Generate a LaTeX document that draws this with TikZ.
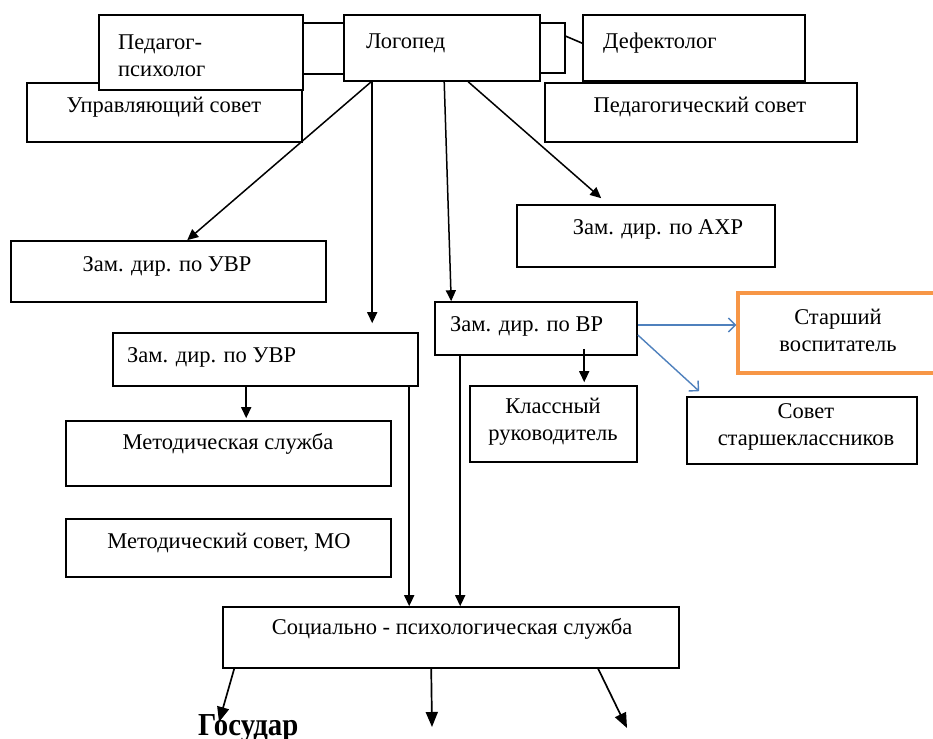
\documentclass[tikz,border=0pt]{standalone}
\usepackage{fontspec}
\setmainfont{Liberation Serif}
\newfontfamily\timesru{Liberation Serif}
\usetikzlibrary{arrows.meta, fit}
\definecolor{wordorange}{HTML}{F79646}
\definecolor{wordblue}{HTML}{4F81BD}
\tikzset{
  box/.style={draw=black, line width=1.6pt, fill=white, inner sep=0pt},
  txt/.style={font=\timesru\fontsize{22.5}{27}\selectfont, inner sep=0pt, align=center},
  arr/.style={line width=1.5pt, -{Triangle[length=11pt,width=10pt]}},
  bigarr/.style={line width=1.7pt, -{Triangle[length=15pt,width=12pt]}},
  bluearr/.style={wordblue, line width=1.4pt, -{Straight Barb[length=7pt,width=14pt]}}
}
\begin{document}
\begin{tikzpicture}[x=1pt, y=-1pt]
\useasboundingbox (0,0) rectangle (933,738);
\fill[white] (0,0) rectangle (933,738);

% top row
\node[box, fit={(27,83) (302,142)}] (upr) {};
\node[txt] at (164,107) {Управляющий совет};
\node[box, fit={(545,83) (857,142)}] (pedsov) {};
\node[txt] at (700,107) {Педагогический совет};
\node[box, fit={(290,23) (344,74)}] (linkL) {};
\node[box, fit={(99,15) (303,90)}] (psy) {};
\node[txt, anchor=west, align=left] at (118,56) {Педагог-\\психолог};
\node[box, fit={(540,23) (565,73)}] (linkR) {};
\node[box, fit={(344,15) (540,81)}] (logo) {};
\node[txt, anchor=west] at (366,43) {Логопед};
\node[box, fit={(583,15) (805,81)}] (defek) {};
\node[txt, anchor=west] at (603,43) {Дефектолог};
\draw[line width=1.6pt] ([yshift=-14pt]linkR.north east) -- ([yshift=-29pt]defek.north west);

% deputies
\node[box, fit={(11,241) (326,302)}] (uvrA) {};
\node[txt] at (167,266) {Зам. дир. по УВР};
\node[box, fit={(517,205) (775,267)}] (axr) {};
\node[txt] at (658,229) {Зам. дир. по АХР};
\node[box, fit={(435,302) (637,355)}] (vr) {};
\node[txt, anchor=west] at (450,326) {Зам. дир. по ВР};
\node[box, fit={(113,333) (418,386)}] (uvrB) {};
\node[txt, anchor=west] at (127,357) {Зам. дир. по УВР};
\node[box, draw=wordorange, line width=3.5pt, fit={(738,293) (950,373)}] (star) {};
\node[txt] at (838,330) {Старший\\воспитатель};
\node[box, fit={(470,386) (637,462)}] (kl) {};
\node[txt] at (553,422) {Классный\\руководитель};
\node[box, fit={(687,397) (917,464)}] (sov) {};
\node[txt] at (806,427) {Совет\\старшеклассников};
\node[box, fit={(66,421) (391,486)}] (met) {};
\node[txt] at (228,444) {Методическая служба};
\node[box, fit={(66,519) (391,577)}] (mo) {};
\node[txt] at (229,543) {Методический совет, МО};
\node[box, fit={(223,607) (679,668)}] (soc) {};
\node[txt] at (452,629) {Социально - психологическая служба};
\node[anchor=base west, inner sep=0pt, xscale=0.9, font=\timesru\fontsize{32}{32}\selectfont\bfseries] (gos) at (198,735) {Государ};

% arrows
\draw[arr] ([xshift=28pt]logo.south west) -- ([xshift=177pt]uvrA.north west);
\draw[arr] ([xshift=29pt]logo.south west) -- ([xshift=260pt, yshift=9pt]uvrB.north west);
\draw[arr] ([xshift=101pt]logo.south west) -- ([xshift=17pt]vr.north west);
\draw[arr] ([xshift=125pt]logo.south west) -- ([xshift=85pt, yshift=6pt]axr.north west);
\draw[arr] ([xshift=150pt, yshift=7pt]vr.south west) -- ([xshift=115pt, yshift=3pt]kl.north west);
\draw[arr] ([xshift=134pt]uvrB.south west) -- ([xshift=181pt, yshift=2pt]met.north west);
\draw[arr] ([xshift=297pt]uvrB.south west) -- ([xshift=187pt]soc.north west);
\draw[arr] ([xshift=26pt]vr.south west) -- ([xshift=238pt]soc.north west);
\draw[bluearr] ([yshift=3.5pt]vr.east) -- ([yshift=8pt]star.west);
\draw[bluearr] ([yshift=-6.5pt]vr.east) -- ([xshift=13pt, yshift=5pt]sov.north west);

\coordinate (outA) at (219,722);
\coordinate (outB) at (432,727);
\coordinate (outC) at (627,728);
\draw[bigarr] ([xshift=12pt]soc.south west) -- (outA);
\draw[bigarr] ([xshift=209pt]soc.south west) -- (outB);
\draw[bigarr] ([xshift=376pt]soc.south west) -- (outC);

\end{tikzpicture}
\end{document}
